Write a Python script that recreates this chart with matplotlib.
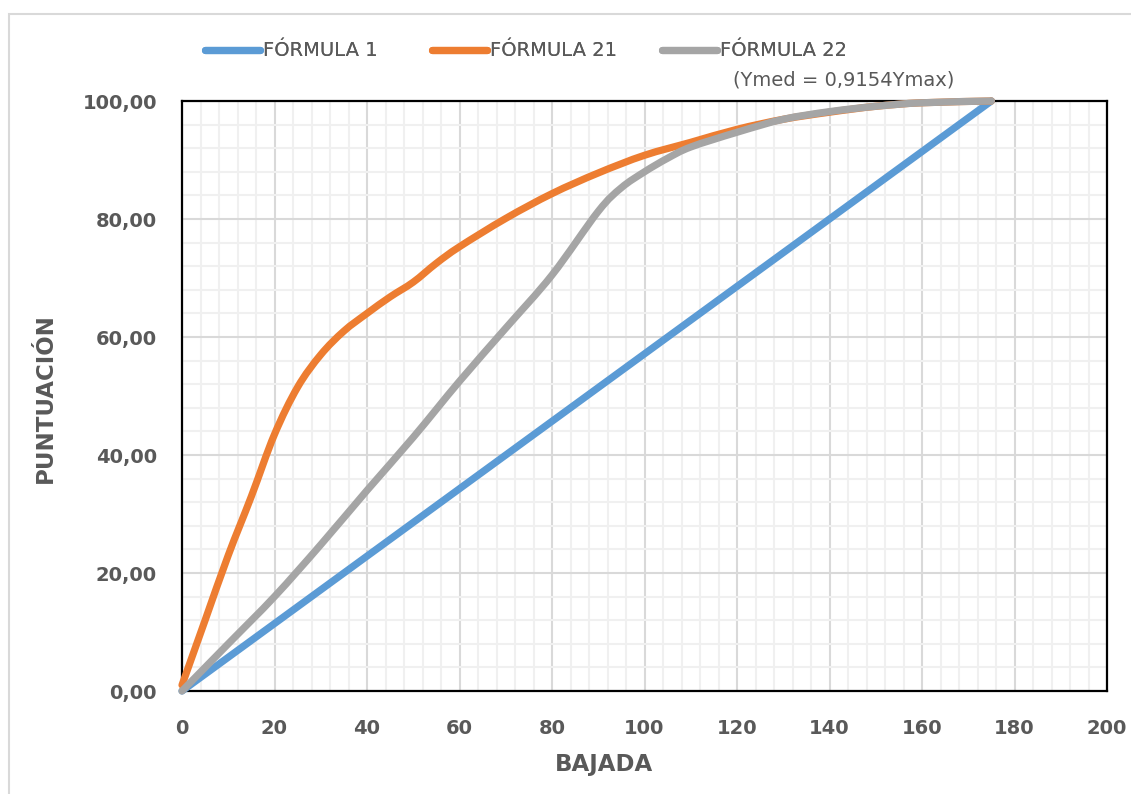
import matplotlib
matplotlib.use("Agg")
import matplotlib.pyplot as plt
from matplotlib.patches import Rectangle, PathPatch
from matplotlib.path import Path
from matplotlib.lines import Line2D
from matplotlib.ticker import MultipleLocator

# ---- data ----
x_f1 = [0, 175]
y_f1 = [0, 100]

x_f21 = [0, 5, 10, 15, 20, 25, 30, 35, 40, 45, 50, 55, 60, 70, 80, 90, 100, 110, 120, 130, 140, 150, 160, 175]
y_f21 = [1, 12, 23, 33, 43.5, 51.5, 57, 61, 64, 66.8, 69.3, 72.5, 75.3, 80.1, 84.3, 87.8, 90.8, 93.0, 95.2, 96.9, 98.1, 99.1, 99.7, 100]

x_f22 = [0, 10, 20, 30, 40, 50, 60, 70, 80, 90, 95, 100, 105, 110, 120, 130, 140, 150, 160, 175]
y_f22 = [0, 8, 16, 24.8, 34, 43, 52.5, 61.5, 70.5, 81.3, 85.3, 88, 90.3, 92.2, 94.7, 96.9, 98.2, 99.1, 99.7, 100]

series_labels = ["FÓRMULA 1", "FÓRMULA 21", "FÓRMULA 22"]
series_note = "(Ymed = 0,9154Ymax)"
series_colors = ["#5B9BD5", "#ED7D31", "#A5A5A5"]

x_ticks = [0, 20, 40, 60, 80, 100, 120, 140, 160, 180, 200]
y_ticks = [0, 20, 40, 60, 80, 100]
y_tick_labels = ["0,00", "20,00", "40,00", "60,00", "80,00", "100,00"]

x_title = "BAJADA"
y_title = "PUNTUACIÓN"


def smooth_path(xs, ys, tension=1 / 6):
    """Excel-like smoothed line: cubic Bezier segments through the data points."""
    pts = list(zip(xs, ys))
    verts = [pts[0]]
    codes = [Path.MOVETO]
    n = len(pts)
    for i in range(n - 1):
        p0 = pts[i - 1] if i > 0 else pts[i]
        p1 = pts[i]
        p2 = pts[i + 1]
        p3 = pts[i + 2] if i + 2 < n else pts[i + 1]
        c1 = (p1[0] + (p2[0] - p0[0]) * tension, p1[1] + (p2[1] - p0[1]) * tension)
        c2 = (p2[0] - (p3[0] - p1[0]) * tension, p2[1] - (p3[1] - p1[1]) * tension)
        verts += [c1, c2, p2]
        codes += [Path.CURVE4] * 3
    return Path(verts, codes)


# ---- figure ----
W, H = 1131, 794
fig = plt.figure(figsize=(W / 100, H / 100), dpi=100)
fig.patch.set_facecolor("white")

fig.patches.append(Rectangle((9 / W, -0.1), 1.2, 1 - 14 / H + 0.1, transform=fig.transFigure,
                             fill=False, edgecolor="#D9D9D9", linewidth=1.5, zorder=0))

ax = fig.add_axes([182 / W, 1 - 691 / H, (1107 - 182) / W, (691 - 101) / H])

txt_color = "#595959"

ax.set_xlim(0, 200)
ax.set_ylim(0, 100)
ax.set_xticks(x_ticks)
ax.set_xticklabels([str(t) for t in x_ticks])
ax.set_yticks(y_ticks)
ax.set_yticklabels(y_tick_labels)
ax.xaxis.set_minor_locator(MultipleLocator(4))
ax.yaxis.set_minor_locator(MultipleLocator(4))

ax.grid(which="major", color="#D9D9D9", linewidth=1.5, zorder=0)
ax.grid(which="minor", color="#F0F0F0", linewidth=1.5, zorder=0)
ax.set_axisbelow(True)

ax.tick_params(which="both", length=0)
ax.tick_params(axis="x", pad=20, labelsize=14, labelcolor=txt_color)
ax.tick_params(axis="y", pad=18, labelsize=14, labelcolor=txt_color)
for lab in ax.get_xticklabels() + ax.get_yticklabels():
    lab.set_fontweight("bold")

for s in ax.spines.values():
    s.set_color("black")
    s.set_linewidth(1.6)

handles = []
for xs, ys, c, lab in zip([x_f1, x_f21, x_f22], [y_f1, y_f21, y_f22], series_colors, series_labels):
    patch = PathPatch(smooth_path(xs, ys), facecolor="none", edgecolor=c, linewidth=5.2,
                      capstyle="round", joinstyle="round", zorder=3, clip_on=False)
    ax.add_patch(patch)
    handles.append(Line2D([], [], color=c, linewidth=5.2, solid_capstyle="round", label=lab))

fig.text(604 / W, 1 - 765 / H, x_title, ha="center", va="center",
         fontsize=16.5, fontweight="bold", color=txt_color)
fig.text(45 / W, 1 - 398 / H, y_title, ha="center", va="center", rotation=90,
         fontsize=16.5, fontweight="bold", color=txt_color)

# legend: one entry per box, placed like the reference
leg_x = [205, 432, 662]
for hx, h in zip(leg_x, handles):
    lg = fig.legend(handles=[h], labels=[h.get_label()], loc="center left",
                    bbox_to_anchor=(hx / W, 1 - 51 / H), frameon=False, fontsize=14,
                    handlelength=2.85, handletextpad=0.12, borderaxespad=0, borderpad=0)
    for t in lg.get_texts():
        t.set_color(txt_color)
    fig.add_artist(lg)

fig.text(733 / W, 1 - 80 / H, series_note, ha="left", va="center", fontsize=14, color=txt_color)

fig.savefig("out.png", dpi=100, facecolor="white")
